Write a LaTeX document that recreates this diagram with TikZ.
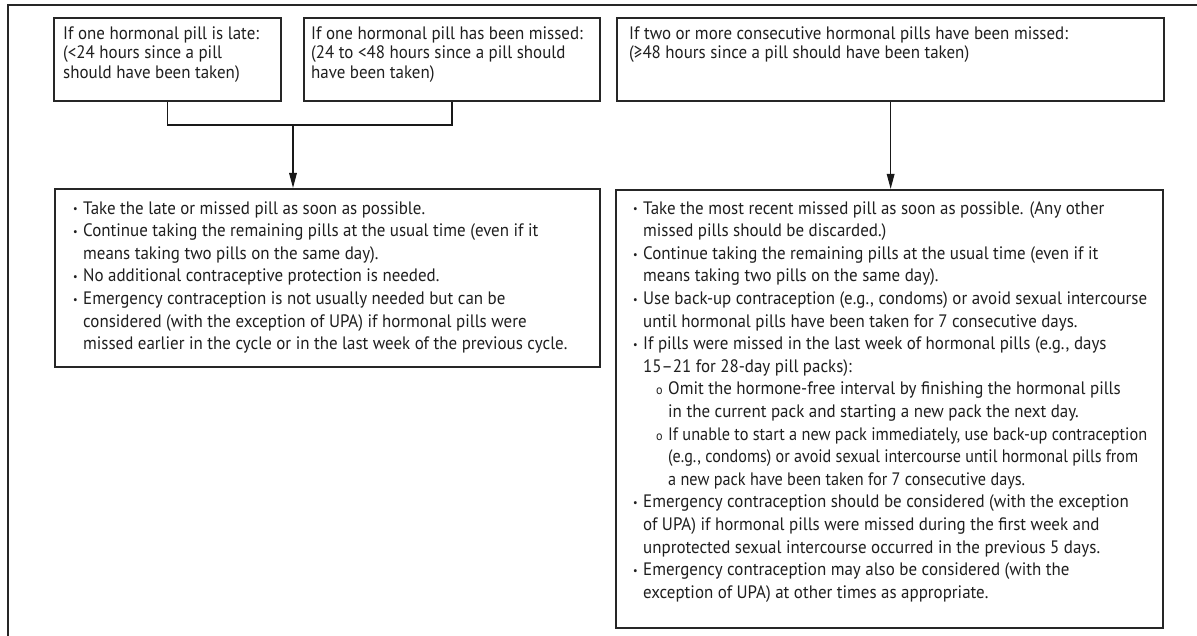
\documentclass[tikz,border=0pt]{standalone}
\usepackage{fontspec}
\setmainfont{PT Sans}[FakeStretch=0.94]
\newfontfamily\symfont{DejaVu Sans}
\usepackage{graphicx}
\usetikzlibrary{arrows.meta}
\newlength\reflen
\newcommand\bl{\makebox[10pt][l]{\raisebox{.12ex}{\scalebox{.6}{\textbullet}}}}
\newcommand\ind{\hspace*{10pt}}
\newcommand\sbl{\hspace*{23pt}\makebox[12pt][l]{\scalebox{.72}{o}}}
\newcommand\sind{\hspace*{35pt}}
\newcommand\fitw[2]{\resizebox{#1}{\height}{#2}}
\newcommand\gesym{\iffontchar\font"2265 ≥\else{\symfont ≥}\fi}
\begin{document}
\settowidth\reflen{\fontsize{10}{12}\selectfont Use back-up contraception (e.g., condoms) or avoid sexual intercourse}%
\pgfmathsetmacro\fs{10*504/\reflen}%
\begin{tikzpicture}[x=1pt,y=-1pt,
  box/.style={draw=black!85,line width=2.3pt,rectangle,inner sep=0pt,anchor=north west},
  txt/.style={anchor=north west,inner sep=0pt,align=left,text=black!88},
  toptxt/.style={txt,font=\fontsize{\fs}{19.5}\selectfont},
  bottxt/.style={txt,font=\fontsize{\fs}{22.6}\selectfont},
  conn/.style={draw=black!90,line width=1.6pt},
  arr/.style={conn,-{Triangle[length=15pt,width=7.5pt]}}]
\useasboundingbox (0,0) rectangle (1197,636);
\fill[white] (0,0) rectangle (1197,636);
% outer frame
\coordinate (fbl) at (8,636);
\coordinate (ftl) at (8,5);
\coordinate (ftr) at (1197,5);
\draw[draw=black!85,line width=2.6pt] (fbl) -- (ftl) -- (ftr);
% boxes
\node[box,minimum width=227pt,minimum height=83pt] (A) at (53,17) {};
\node[box,minimum width=296pt,minimum height=83pt] (B) at (303,17) {};
\node[box,minimum width=547pt,minimum height=83pt] (C) at (616,17) {};
\node[box,minimum width=545pt,minimum height=178pt] (D) at (54,188) {};
\node[box,minimum width=547pt,minimum height=438pt] (E) at (615,189) {};
% texts
\node[toptxt] (At) at (63,25.4) {\strut If one hormonal pill is late:\\(<24 hours since a pill\\should have been taken)};
\node[toptxt] (Bt) at (311,25.4) {\strut If one hormonal pill has been missed:\\(24 to <48 hours since a pill should\\have been taken)};
\node[toptxt] (Ct) at (629,25.4) {\strut If two or more consecutive hormonal pills have been missed:\\(\gesym48 hours since a pill should have been taken)};
\node[bottxt] (Dt) at (73,198) {\strut\bl Take the late or missed pill as soon as possible.\\
\bl Continue taking the remaining pills at the usual time (even if it\\
\ind means taking two pills on the same day).\\
\bl No additional contraceptive protection is needed.\\
\bl Emergency contraception is not usually needed but can be\\
\ind considered (with the exception of UPA) if hormonal pills were\\
\ind missed earlier in the cycle or in the last week of the previous cycle.};
\node[bottxt] (Et) at (633,198) {\strut\bl Take the most recent missed pill as soon as possible. (Any other\\
\ind missed pills should be discarded.)\\
\bl Continue taking the remaining pills at the usual time (even if it\\
\ind means taking two pills on the same day).\\
\bl Use back-up contraception (e.g., condoms) or avoid sexual intercourse\\
\ind until hormonal pills have been taken for 7 consecutive days.\\
\bl If pills were missed in the last week of hormonal pills (e.g., days\\
\ind 15--21 for 28-day pill packs):\\
\sbl Omit the hormone-free interval by finishing the hormonal pills\\
\sind in the current pack and starting a new pack the next day.\\
\sbl \fitw{479pt}{If unable to start a new pack immediately, use back-up contraception}\\
\sind \fitw{470pt}{(e.g., condoms) or avoid sexual intercourse until hormonal pills from}\\
\sind \fitw{357pt}{a new pack have been taken for 7 consecutive days.}\\
\bl Emergency contraception should be considered (with the exception\\
\ind of UPA) if hormonal pills were missed during the first week and\\
\ind unprotected sexual intercourse occurred in the previous 5 days.\\
\bl Emergency contraception may also be considered (with the\\
\ind exception of UPA) at other times as appropriate.};
% connectors
\coordinate (j) at (293,125);
\draw[conn] (A.south) |- (j) -| (B.south);
\draw[arr] (j) -- (j |- D.north);
\draw[arr] (C.south) -- (C.south |- E.north);
\end{tikzpicture}
\end{document}
